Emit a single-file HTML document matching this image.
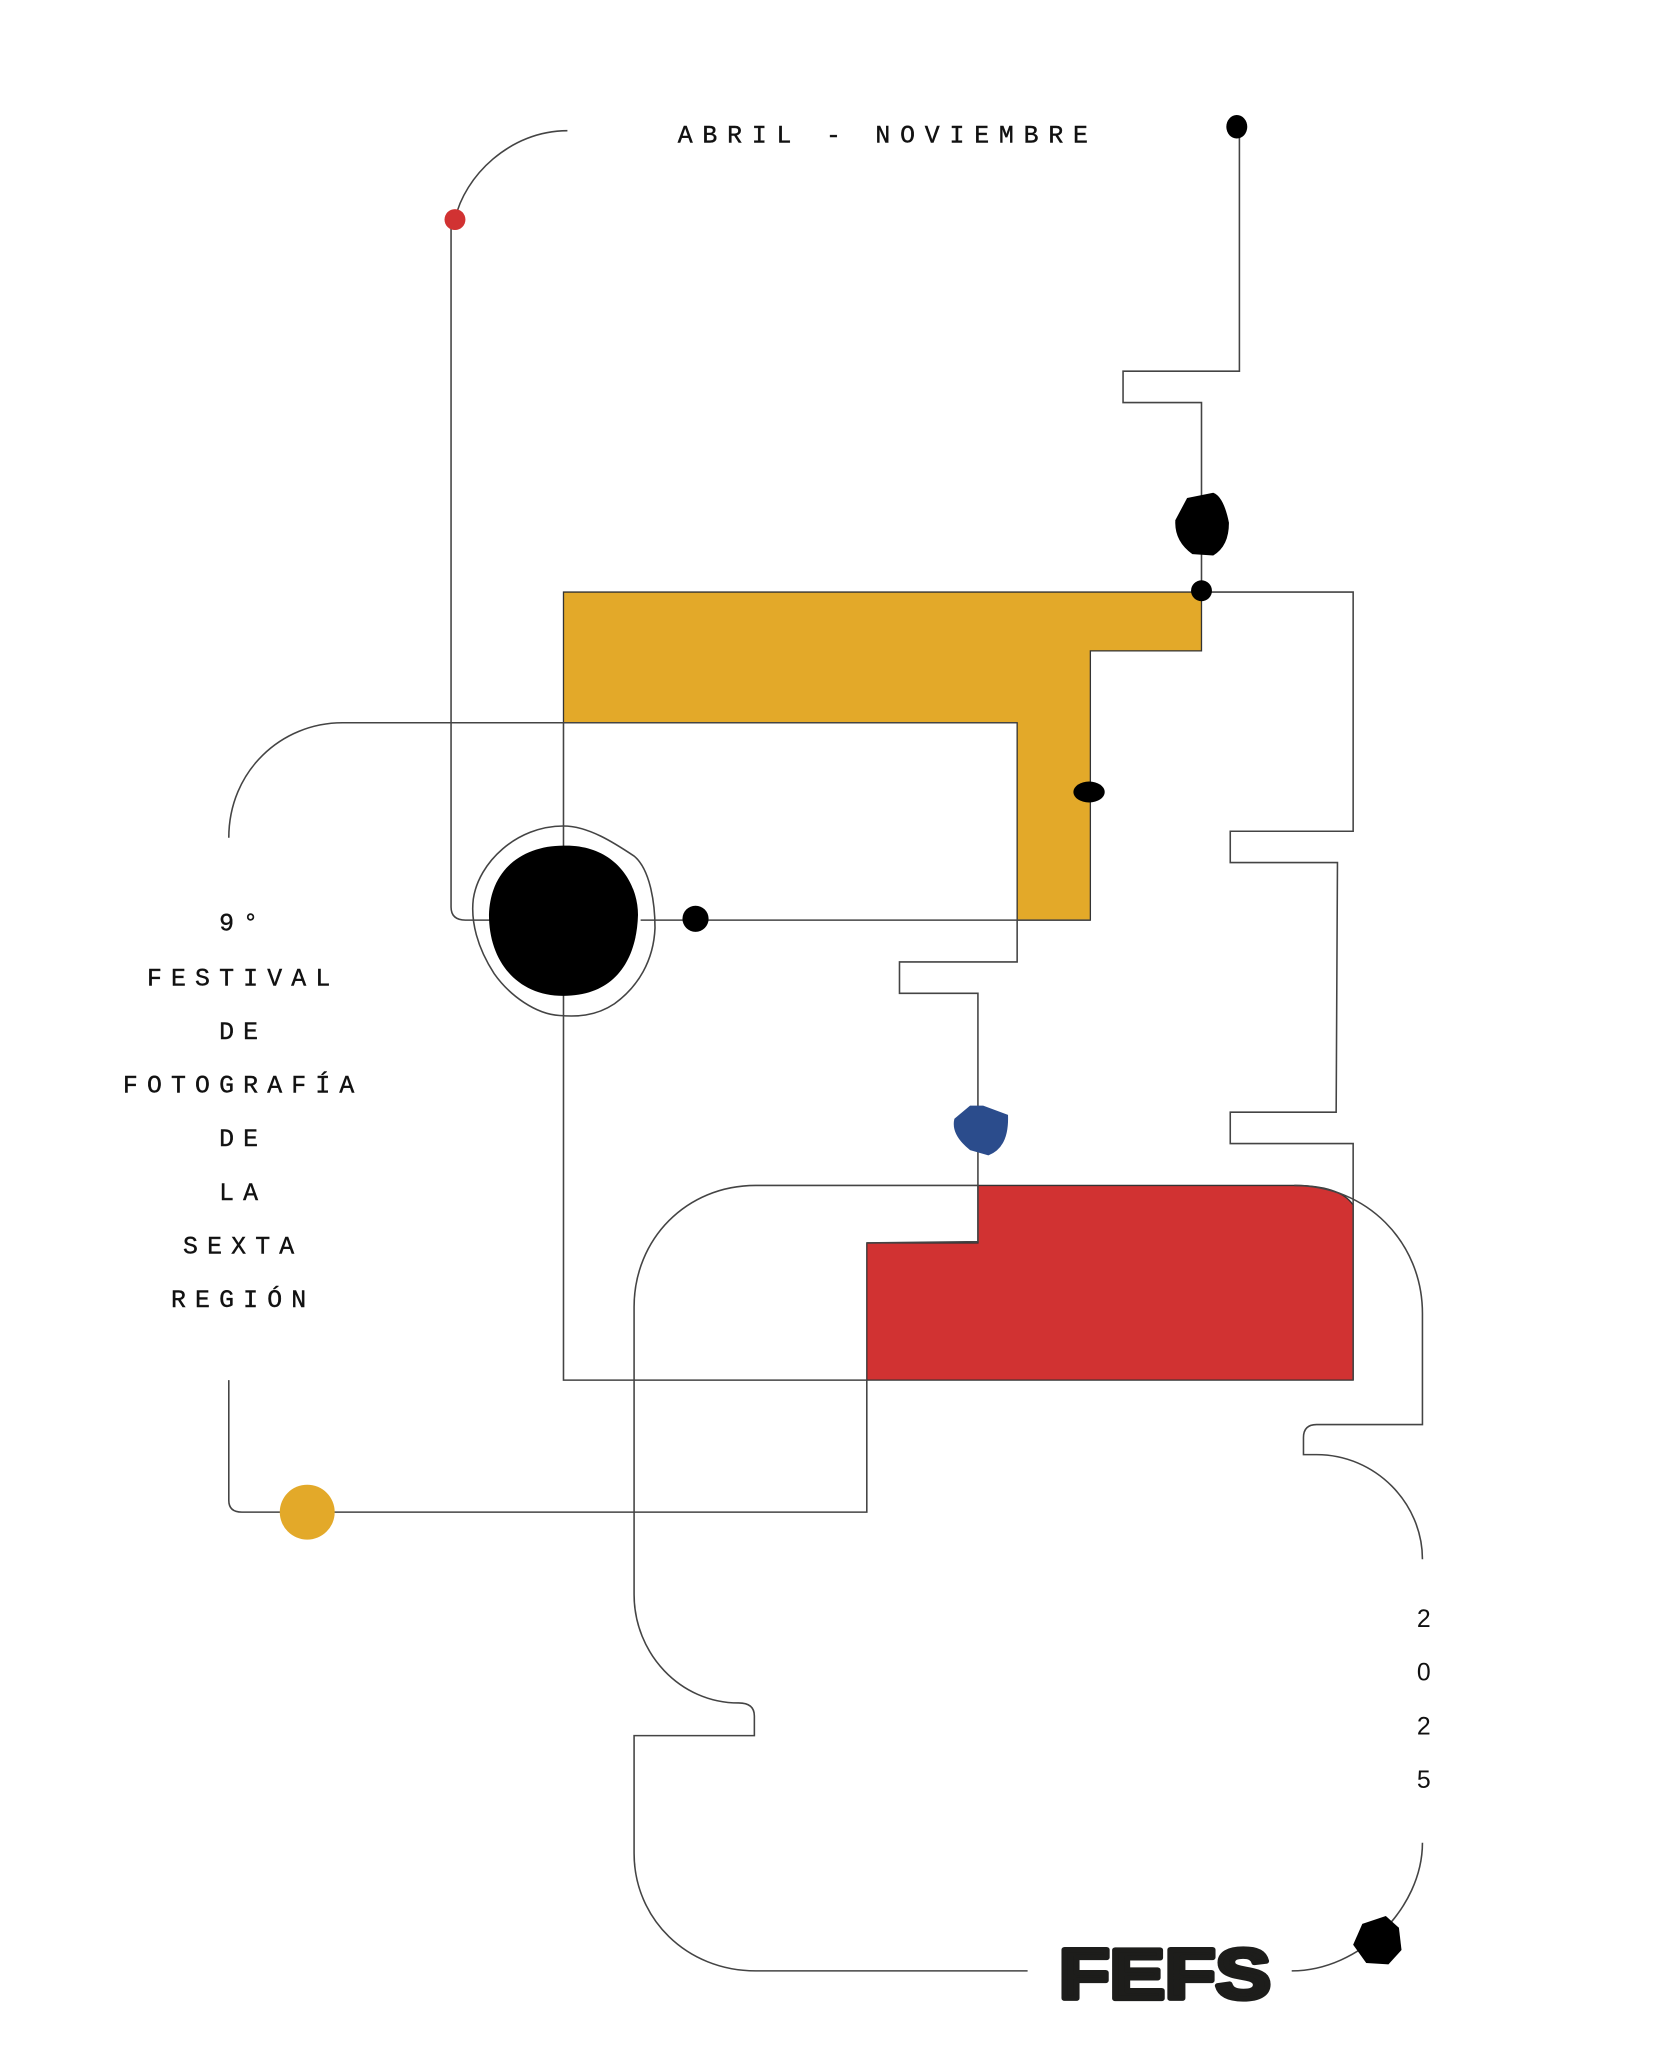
<!DOCTYPE html>
<html><head><meta charset="utf-8"><style>
html,body{margin:0;padding:0;background:#fff;}
svg{display:block;}
</style></head><body>
<svg width="1680" height="2048" viewBox="0 0 1285 1567" preserveAspectRatio="none" xmlns="http://www.w3.org/2000/svg">
<rect width="1285" height="1567" fill="#fff"/>
<polygon points="431,453 919,453 919,498 834,498 834,704 778,704 778,553 431,553" fill="#E3A929" stroke="#333" stroke-width="1"/>
<path d="M748,907 L990,907 Q1025,907 1035,922 L1035,1056 L663,1056 L663,951 L748,951 Z" fill="#D13232" stroke="#333" stroke-width="1"/>
<g fill="none" stroke="#444" stroke-width="1.2">
<path d="M434,100 C390,100 355,135 348,168"/>
<path d="M345,175 L345,694 Q345,704 356,704 L375,704"/>
<path d="M490,704 L834,704"/>
<path d="M948,97 L948,284 L859,284 L859,308 L919,308 L919,453"/>
<path d="M919,453 L1035,453 L1035,636 L941,636 L941,660 L1023,660 L1022,851 L941,851 L941,875 L1035,875 L1035,1056"/>
<path d="M175,641 C175,590 215,553 262,553 L778,553"/>
<path d="M431,553 L431,1056 L663,1056"/>
<path d="M778,704 L778,736 L688,736 L688,760 L748,760 L748,950 L663,951"/>
<path d="M990,907 C1045,907 1088,950 1088,1005 L1088,1090 L1007,1090 Q997,1090 997,1100 L997,1113 L1007,1113 C1052,1113 1088,1150 1088,1193"/>
<path d="M1088,1410 C1088,1460 1040,1508 988,1508"/>
<path d="M786,1508 L578,1508 C525,1508 485,1468 485,1418 L485,1328 L577,1328 L577,1313 Q577,1303 565,1303 C520,1303 485,1265 485,1220 L485,1000 C485,948 525,907 578,907 L748,907"/>
<path d="M175,1056 L175,1148 Q175,1157 185,1157 L663,1157 L663,1056"/>
<path d="M431,632 C450,632 470,645 485,655 C497,665 501,690 501,710 C500,735 488,755 470,768 C455,778 440,778 428,777 C410,776 390,762 378,745 C365,725 360,705 362,688 C366,660 395,632 431,632 Z"/>
</g>
<circle cx="348" cy="168" r="8" fill="#D13232"/>
<ellipse cx="946" cy="97" rx="8" ry="9" fill="#000"/>
<path d="M908,381 L928,377 Q936,380 940,400 Q940,418 928,425 L912,424 Q898,414 899,398 Z" fill="#000"/>
<ellipse cx="919" cy="452" rx="8" ry="8" fill="#000"/>
<ellipse cx="833" cy="606" rx="12" ry="8" fill="#000"/>
<ellipse cx="532" cy="703" rx="10" ry="10" fill="#000"/>
<path d="M431,647 C470,646 488,675 488,700 C487,735 470,762 431,762 C395,762 374,735 374,700 C375,665 400,647 431,647 Z" fill="#000"/>
<path d="M742,846 L752,846 L771,853 Q772,878 756,884 L742,880 Q727,868 730,856 Z" fill="#2B4C8C"/>
<circle cx="235" cy="1157" r="21" fill="#E3A929"/>
<path d="M1042,1472 L1060,1466 L1070,1475 L1072,1492 L1062,1503 L1045,1502 L1035,1488 Z" fill="#000"/>
<g font-family="'Liberation Mono', 'DejaVu Sans Mono', monospace" font-size="19" fill="#111" text-anchor="middle" stroke="#111" stroke-width="0.3">
<text x="679" y="109" letter-spacing="7.5">ABRIL - NOVIEMBRE</text>
<text x="186" y="712" letter-spacing="7">9°</text>
<text x="186" y="754" letter-spacing="7">FESTIVAL</text>
<text x="186" y="795" letter-spacing="7">DE</text>
<text x="186" y="836" letter-spacing="7">FOTOGRAFÍA</text>
<text x="186" y="877" letter-spacing="7">DE</text>
<text x="186" y="918" letter-spacing="7">LA</text>
<text x="186" y="959" letter-spacing="7">SEXTA</text>
<text x="186" y="1000" letter-spacing="7">REGIÓN</text>
</g>
<g font-family="'Liberation Sans', sans-serif" font-size="19" fill="#111" text-anchor="middle">
<text x="1089" y="1245">2</text>
<text x="1089" y="1286">0</text>
<text x="1089" y="1327">2</text>
<text x="1089" y="1368">5</text>
</g>
<text x="810" y="1529" font-family="'Liberation Sans', sans-serif" font-weight="bold" font-size="54" fill="#1d1d1b" stroke="#1d1d1b" stroke-width="4" stroke-linejoin="round" textLength="162" lengthAdjust="spacingAndGlyphs">FEFS</text>
</svg>
</body></html>
